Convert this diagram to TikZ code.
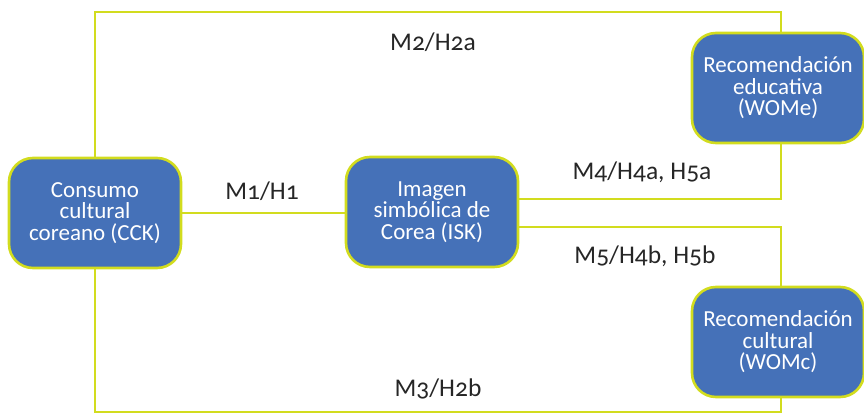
\documentclass[tikz,border=0pt]{standalone}
\usepackage{fontspec}
\setmainfont[Numbers=OldStyle]{Carlito}
\definecolor{lineyel}{HTML}{D2DC1E}
\definecolor{boxblue}{HTML}{4571B8}
\begin{document}
\begin{tikzpicture}[x=1pt,y=-1pt,
  box/.style={draw=lineyel, line width=2.6pt, fill=boxblue, rounded corners=24pt,
    minimum width=172pt, minimum height=110pt, text=white, align=center,
    font=\fontsize{23}{21.5}\selectfont, inner sep=2pt},
  link/.style={draw=lineyel, line width=2pt},
  lab/.style={font=\fontsize{25.5}{28}\selectfont, text=black!85}]
\useasboundingbox (0,0) rectangle (864,415);
\node[box] (cck) at (95,213) {Consumo\\cultural\\coreano (CCK)};
\node[box] (isk) at (432,212) {Imagen\\simbólica de\\Corea (ISK)};
\node[box] (wome) at (778,88) {Recomendación\\educativa\\(WOMe)};
\node[box] (womc) at (778,342) {Recomendación\\cultural\\(WOMc)};
\coordinate (tl) at (95,12);
\coordinate (tr) at (781,12);
\coordinate (bl) at (95,412);
\coordinate (br) at (781,412);
\coordinate (m4) at (781,199);
\coordinate (m5) at (781,227);
\draw[link] (cck.north) -- (tl) -- (tr) -- (tr |- wome.north);
\draw[link] (cck.south) -- (bl) -- (br) -- (br |- womc.south);
\draw[link] (cck.east) -- (cck.east -| isk.west);
\draw[link] (isk.east |- m4) -- (m4) -- (m4 |- wome.south);
\draw[link] (isk.east |- m5) -- (m5) -- (m5 |- womc.north);
\node[lab] (l2) at (433,42) {M2/H2a};
\node[lab] (l1) at (262,191) {M1/H1};
\node[lab] (l4) at (642,172) {M4/H4a, H5a};
\node[lab] (l5) at (645,256) {M5/H4b, H5b};
\node[lab] (l3) at (438,389) {M3/H2b};
\end{tikzpicture}
\end{document}
